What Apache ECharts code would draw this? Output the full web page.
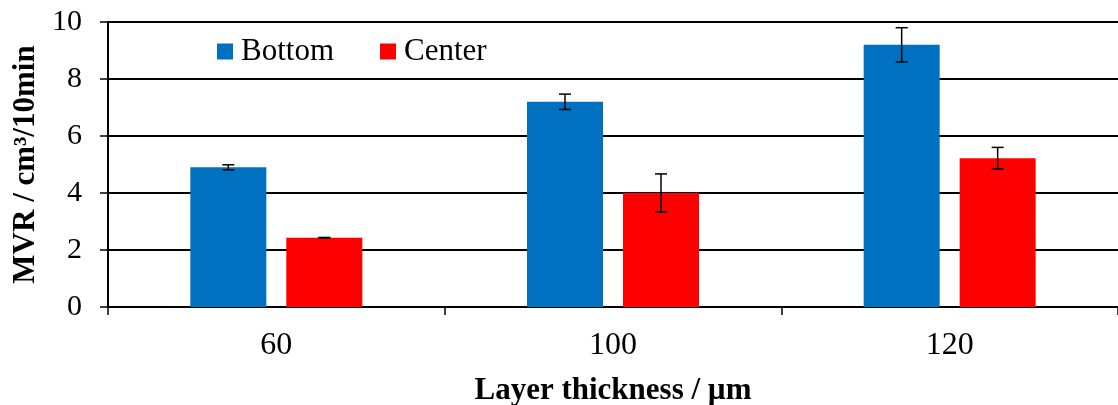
<!DOCTYPE html>
<html>
<head>
<meta charset="utf-8">
<script src="https://cdn.jsdelivr.net/npm/echarts@6/dist/echarts.min.js"></script>
<style>
  html, body { margin: 0; padding: 0; background: #fff; }
  #chart { width: 1118px; height: 405px; }
</style>
</head>
<body>
<div id="chart"></div>
<script>
// data
var categories = ['60', '100', '120'];
var bottomValues = [4.9, 7.2, 9.2];
var bottomErr = [0.09, 0.27, 0.6];
var centerValues = [2.43, 4.0, 5.22];
var centerErr = [0.01, 0.67, 0.38];
var yTicks = [0, 2, 4, 6, 8, 10];

var FONT = '"Liberation Serif", "Times New Roman", serif';
var BAR_W = 76;
var BAR_GAP = 20;

var chart = echarts.init(document.getElementById('chart'));

// error bar data: [categoryIndex, low, high]
function errData(vals, errs) {
  return vals.map(function (v, i) { return [i, v - errs[i], v + errs[i]]; });
}

// draws whisker + caps, shifted to sit on its bar
function errRender(shift) {
  return function (params, api) {
    var lo = api.coord([api.value(0), api.value(1)]);
    var hi = api.coord([api.value(0), api.value(2)]);
    var x = lo[0] + shift;
    var cap = 6;
    var style = { stroke: '#000', lineWidth: 1.5 };
    return {
      type: 'group',
      children: [
        { type: 'line', shape: { x1: x, y1: lo[1], x2: x, y2: hi[1] }, style: style },
        { type: 'line', shape: { x1: x - cap, y1: lo[1], x2: x + cap, y2: lo[1] }, style: style },
        { type: 'line', shape: { x1: x - cap, y1: hi[1], x2: x + cap, y2: hi[1] }, style: style }
      ]
    };
  };
}

var shift = (BAR_W + BAR_GAP) / 2;

chart.setOption({
  animation: false,
  grid: { left: 108, right: 0, top: 22, bottom: 98, containLabel: false, outerBoundsMode: 'none' },
  legend: {
    left: 217,
    top: 36,
    padding: 0,
    itemWidth: 16,
    itemHeight: 16,
    itemGap: 46,
    icon: 'rect',
    textStyle: { fontFamily: FONT, fontSize: 31, color: '#000', padding: [0, 0, 0, 3] },
    data: ['Bottom', 'Center']
  },
  xAxis: {
    type: 'category',
    data: categories,
    name: 'Layer thickness / µm',
    nameLocation: 'middle',
    nameGap: 68,
    nameTextStyle: { fontFamily: FONT, fontSize: 31, fontWeight: 'bold', color: '#000' },
    axisLine: { lineStyle: { color: '#000', width: 2 } },
    axisTick: { show: true, length: 8, lineStyle: { color: '#000', width: 1.5 } },
    axisLabel: { fontFamily: FONT, fontSize: 32, color: '#000', margin: 23 },
    splitLine: { show: false }
  },
  yAxis: {
    type: 'value',
    min: yTicks[0],
    max: yTicks[yTicks.length - 1],
    interval: 2,
    name: 'MVR / cm³/10min',
    nameLocation: 'middle',
    nameGap: 64,
    nameTextStyle: { fontFamily: FONT, fontSize: 31, fontWeight: 'bold', color: '#000' },
    axisLine: { show: true, lineStyle: { color: '#000', width: 2 } },
    axisTick: { show: true, length: 8, lineStyle: { color: '#000', width: 1.5 } },
    axisLabel: { fontFamily: FONT, fontSize: 30, color: '#000', margin: 26 },
    splitLine: { show: true, lineStyle: { color: '#000', width: 1.8 } }
  },
  series: [
    {
      name: 'Bottom',
      type: 'bar',
      data: bottomValues,
      barWidth: BAR_W,
      barGap: (BAR_GAP / BAR_W * 100).toFixed(1) + '%',
      itemStyle: { color: '#0070C0' },
      z: 2
    },
    {
      name: 'Center',
      type: 'bar',
      data: centerValues,
      barWidth: BAR_W,
      itemStyle: { color: '#FF0000' },
      z: 2
    },
    {
      name: 'BottomErr',
      type: 'custom',
      data: errData(bottomValues, bottomErr),
      renderItem: errRender(-shift),
      encode: { x: 0, y: [1, 2] },
      z: 5,
      silent: true
    },
    {
      name: 'CenterErr',
      type: 'custom',
      data: errData(centerValues, centerErr),
      renderItem: errRender(shift),
      encode: { x: 0, y: [1, 2] },
      z: 5,
      silent: true
    }
  ]
});
</script>
</body>
</html>
